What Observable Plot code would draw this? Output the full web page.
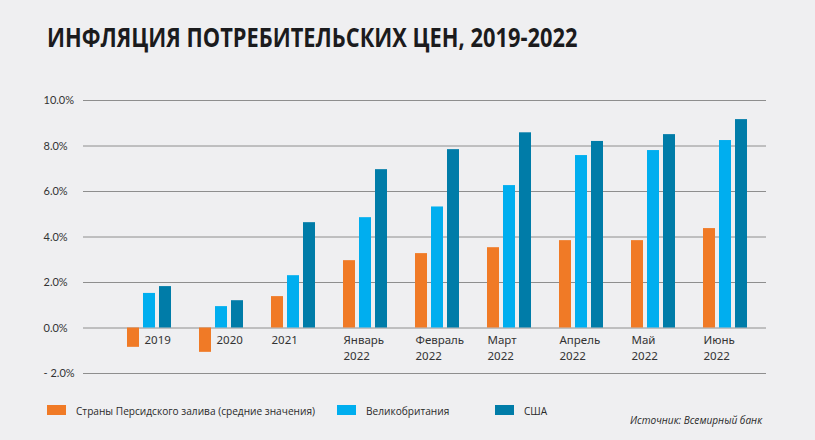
<!DOCTYPE html>
<html>
<head>
<meta charset="utf-8">
<script src="https://cdn.jsdelivr.net/npm/d3@7"></script>
<script src="https://cdn.jsdelivr.net/npm/@observablehq/plot@0.6"></script>
<style>
  body { margin: 0; background: #efeff1; }
  #wrap { position: relative; width: 815px; height: 440px; background: #efeff1; overflow: hidden; }
  #title { position: absolute; left: 47px; top: 19px; font-family: "Open Sans", sans-serif; font-weight: 700; font-size: 26px; color: #1b1b1d; white-space: nowrap; transform: scaleX(0.84); transform-origin: left center; }
  #chart { position: absolute; left: 0; top: 80px; }
  .leg { position: absolute; top: 400px; height: 20px; display: flex; align-items: center; font-family: "Open Sans", sans-serif; font-size: 11.5px; color: #2a2a2a; white-space: nowrap; }
  .sw { width: 19px; height: 10px; margin-right: 10px; flex: none; }
  .lt { display: inline-block; transform: scaleX(0.88); transform-origin: left center; }
  #source { position: absolute; left: 630px; top: 411px; height: 18px; line-height: 18px; font-family: "Open Sans", sans-serif; font-style: italic; font-size: 11px; color: #2a2a2a; white-space: nowrap; transform: scaleX(0.92); transform-origin: left center; }
</style>
</head>
<body>
<div id="wrap">
  <div id="title"></div>
  <div id="chart"></div>
  <div id="legend"></div>
  <div id="source"></div>
</div>
<script>
const titleText = "ИНФЛЯЦИЯ ПОТРЕБИТЕЛЬСКИХ ЦЕН, 2019-2022";
const sourceText = "Источник: Всемирный банк";
const categories = ["2019", "2020", "2021", "Январь\n2022", "Февраль\n2022", "Март\n2022", "Апрель\n2022", "Май\n2022", "Июнь\n2022"];
const seriesNames = ["Страны Персидского залива (средние значения)", "Великобритания", "США"];
const seriesColors = ["#f07a26", "#00aeef", "#007ca8"];
const gulf = [-0.85, -1.07, 1.38, 2.96, 3.27, 3.53, 3.84, 3.84, 4.37];
const uk   = [1.52, 0.94, 2.30, 4.85, 5.32, 6.26, 7.58, 7.80, 8.24];
const usa  = [1.82, 1.20, 4.63, 6.96, 7.84, 8.58, 8.20, 8.50, 9.16];
const yTicks = [-2, 0, 2, 4, 6, 8, 10];
const yTickLabels = ["- 2.0%", "0.0%", "2.0%", "4.0%", "6.0%", "8.0%", "10.0%"];

document.getElementById("title").textContent = titleText;
document.getElementById("source").textContent = sourceText;

const rows = categories.map((c, i) => ({cat: c, gulf: gulf[i], uk: uk[i], usa: usa[i]}));
const tickRows = yTicks.map((v, i) => ({v, label: yTickLabels[i]}));

const chart = Plot.plot({
  width: 815,
  height: 300,
  marginLeft: 83,
  marginRight: 49,
  marginTop: 20,
  marginBottom: 7,
  style: {background: "transparent", overflow: "visible"},
  x: {domain: categories, paddingInner: 0.389, paddingOuter: 0.4375, align: 0.7, axis: null},
  y: {domain: [-2, 10], axis: null},
  marks: [
    Plot.ruleY(yTicks, {stroke: "#8e8e8e", strokeWidth: 1}),
    Plot.barY(rows, {x: "cat", y: "gulf", fill: seriesColors[0], insetLeft: 0, insetRight: 32}),
    Plot.barY(rows, {x: "cat", y: "uk", fill: seriesColors[1], insetLeft: 16, insetRight: 16}),
    Plot.barY(rows, {x: "cat", y: "usa", fill: seriesColors[2], insetLeft: 32, insetRight: 0}),
    Plot.text(tickRows, {y: "v", text: "label", frameAnchor: "left", textAnchor: "start", dx: -40, fontSize: 11, fill: "#333", fontFamily: "Lato, sans-serif"}),
    Plot.text(rows.filter(d => d.gulf >= 0), {x: "cat", y: () => 0, text: "cat", textAnchor: "start", lineAnchor: "top", dx: -22, dy: 5, lineHeight: 1.36, fontSize: 11.5, fill: "#333", fontFamily: "Noto Sans, sans-serif"}),
    Plot.text(rows.filter(d => d.gulf < 0), {x: "cat", y: () => 0, text: "cat", textAnchor: "start", lineAnchor: "top", dx: -5, dy: 5, lineHeight: 1.36, fontSize: 11.5, fill: "#333", fontFamily: "Noto Sans, sans-serif"})
  ]
});
document.getElementById("chart").appendChild(chart);

const legendLefts = [47, 337, 495];
const legend = document.getElementById("legend");
seriesNames.forEach((name, i) => {
  const item = document.createElement("div");
  item.className = "leg";
  item.style.left = legendLefts[i] + "px";
  const sw = document.createElement("span");
  sw.className = "sw";
  sw.style.background = seriesColors[i];
  const t = document.createElement("span");
  t.className = "lt";
  t.textContent = name;
  item.appendChild(sw);
  item.appendChild(t);
  legend.appendChild(item);
});
</script>
</body>
</html>
